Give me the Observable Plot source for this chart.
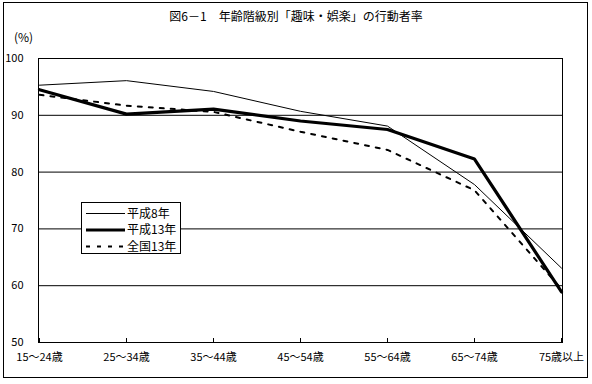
<!DOCTYPE html>
<html>
<head>
<meta charset="utf-8">
<script src="https://cdn.jsdelivr.net/npm/d3@7"></script>
<script src="https://cdn.jsdelivr.net/npm/@observablehq/plot@0.6"></script>
<style>
  html, body { margin: 0; padding: 0; background: #fff; }
  #wrap { position: relative; width: 592px; height: 384px; font-family: "Noto Sans CJK JP", sans-serif; color: #000; }
  #frame { position: absolute; left: 3px; top: 2px; width: 585px; height: 376px; border: 1px solid #000; box-sizing: border-box; pointer-events: none; }
  #title { position: absolute; left: 0; width: 592px; top: 8px; text-align: center; font-size: 12px; line-height: 16px; white-space: pre; }
  #unit { position: absolute; left: 14px; top: 29px; font-size: 12px; line-height: 16px; }
  #legend { position: absolute; left: 81px; top: 202px; width: 100px; height: 52px; border: 1px solid #000; box-sizing: border-box; background: #fff; }
  #chart svg { display: block; }
</style>
</head>
<body>
<div id="wrap">
  <div id="chart"></div>
  <div id="frame"></div>
  <div id="title"></div>
  <div id="unit"></div>
  <div id="legend"></div>
</div>
<script>
const titleText = "図6－1　年齢階級別「趣味・娯楽」の行動者率";
const unitText = "(%)";
const categories = ["15～24歳", "25～34歳", "35～44歳", "45～54歳", "55～64歳", "65～74歳", "75歳以上"];
const seriesNames = ["平成8年", "平成13年", "全国13年"];
const h8 = [95.3, 96.1, 94.2, 90.7, 88.1, 77.8, 63.1];
const h13 = [94.5, 90.2, 91.1, 89.0, 87.5, 82.3, 58.9];
const zenkoku13 = [93.6, 91.7, 90.6, 87.1, 83.9, 76.8, 59.4];
const yTicks = [50, 60, 70, 80, 90, 100];
const gridValues = [60, 70, 80, 90];

const styles = [
  {stroke: "#000", strokeWidth: 1},
  {stroke: "#000", strokeWidth: 3.2},
  {stroke: "#000", strokeWidth: 2, strokeDasharray: "4,7"}
];

const allSeries = [h8, h13, zenkoku13];
const table = allSeries.flatMap((vals, si) => vals.map((v, i) => ({series: seriesNames[si], cat: categories[i], value: v})));

const chart = Plot.plot({
  width: 592,
  height: 384,
  marginLeft: 38,
  marginRight: 30,
  marginTop: 58,
  marginBottom: 42,
  style: {fontFamily: "'Noto Sans CJK JP', sans-serif", fontSize: "11px", color: "#000", background: "transparent"},
  x: {type: "point", domain: categories, padding: 0},
  y: {domain: [50, 100]},
  marks: [
    Plot.ruleY(gridValues, {stroke: "#000", strokeWidth: 1}),
    Plot.frame({stroke: "#000", strokeWidth: 1}),
    Plot.ruleX(categories, {x: d => d, y1: 50, y2: 50.7, stroke: "#000"}),
    Plot.axisX({tickSize: 0, tickPadding: 11, label: null, fontSize: 11}),
    Plot.axisY({ticks: yTicks, tickSize: 0, tickPadding: 15, label: null, fontSize: 11, tickFormat: d => String(d)}),
    ...seriesNames.map((name, si) =>
      Plot.line(table.filter(d => d.series === name), {x: "cat", y: "value", ...styles[si], strokeLinejoin: "miter"})
    )
  ]
});
document.getElementById("chart").appendChild(chart);

document.getElementById("title").textContent = titleText;
document.getElementById("unit").textContent = unitText;

// legend
const lg = d3.select("#legend").append("svg").attr("width", 98).attr("height", 50).style("display", "block");
seriesNames.forEach((name, i) => {
  const y = 10.5 + i * 16.5;
  const s = styles[i];
  lg.append("line").attr("x1", 4).attr("x2", 43).attr("y1", y).attr("y2", y)
    .attr("stroke", s.stroke).attr("stroke-width", s.strokeWidth)
    .attr("stroke-dasharray", s.strokeDasharray || null);
  lg.append("text").attr("x", 45).attr("y", y).attr("dy", "0.35em")
    .attr("font-size", 12).attr("font-family", "'Noto Sans CJK JP', sans-serif").text(name);
});
</script>
</body>
</html>
